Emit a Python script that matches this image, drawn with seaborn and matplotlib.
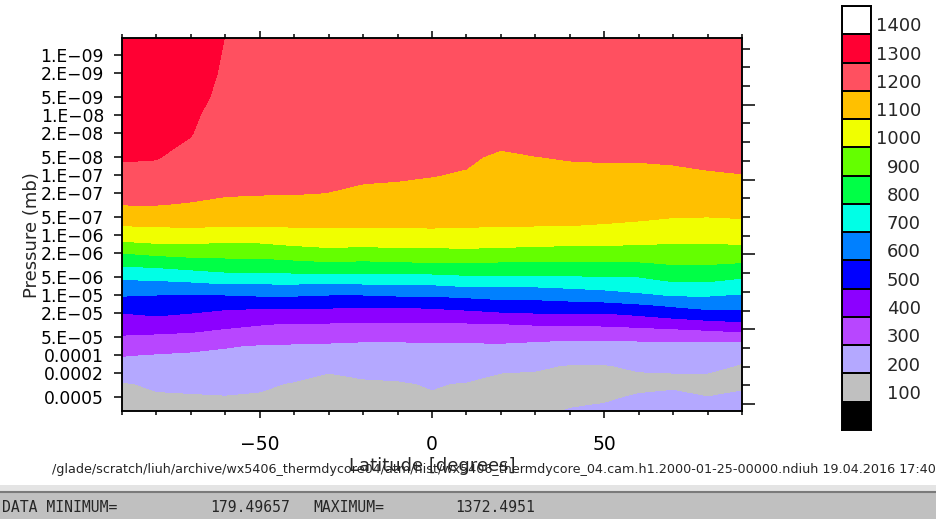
import numpy as np
import pandas as pd
import matplotlib
matplotlib.use("Agg")
import matplotlib.pyplot as plt
import seaborn as sns
from matplotlib.colors import ListedColormap
from matplotlib.ticker import FixedLocator, MultipleLocator, NullLocator, FixedFormatter

# ---------------- data ----------------
latitudes = [-90, -80, -70, -60, -50, -40, -30, -20, -10, 0, 10, 20, 30, 40, 50, 60, 70, 80, 90]

pressures = [5e-10, 1e-9, 2e-9, 5e-9, 1e-8, 2e-8, 5e-8, 1e-7, 2e-7, 3e-7, 5e-7, 7e-7,
             1e-6, 1.5e-6, 2e-6, 3e-6, 5e-6, 7e-6, 1e-5, 1.5e-5, 2e-5, 3e-5, 5e-5, 7e-5,
             1e-4, 1.5e-4, 2e-4, 3e-4, 5e-4, 7e-4, 9e-4]

# temperature [K], one row per pressure level, one column per latitude
temperature = [
    [1372, 1365, 1345, 1299, 1285, 1283, 1282, 1282, 1282, 1282, 1282, 1280, 1280, 1280, 1280, 1280, 1278, 1278, 1276],
    [1366, 1360, 1340, 1294, 1280, 1278, 1277, 1277, 1277, 1276, 1276, 1272, 1272, 1273, 1274, 1274, 1272, 1272, 1270],
    [1358, 1352, 1333, 1290, 1275, 1273, 1272, 1271, 1271, 1270, 1268, 1262, 1263, 1265, 1266, 1266, 1264, 1264, 1262],
    [1345, 1340, 1322, 1282, 1265, 1263, 1262, 1261, 1260, 1258, 1255, 1245, 1247, 1250, 1252, 1252, 1250, 1249, 1248],
    [1335, 1330, 1312, 1268, 1255, 1253, 1252, 1250, 1249, 1246, 1240, 1228, 1232, 1236, 1238, 1238, 1236, 1234, 1233],
    [1322, 1318, 1303, 1255, 1245, 1243, 1241, 1238, 1237, 1232, 1225, 1213, 1218, 1222, 1224, 1224, 1222, 1220, 1220],
    [1306, 1304, 1275, 1235, 1230, 1228, 1225, 1222, 1220, 1214, 1207, 1192, 1199, 1204, 1206, 1206, 1208, 1210, 1210],
    [1278, 1270, 1244, 1220, 1218, 1216, 1212, 1208, 1206, 1202, 1195, 1169, 1174, 1180, 1181, 1180, 1186, 1195, 1199],
    [1230, 1230, 1216, 1206, 1204, 1203, 1199, 1188, 1184, 1174, 1163, 1145, 1149, 1152, 1152, 1150, 1150, 1155, 1159],
    [1205, 1205, 1196, 1185, 1179, 1177, 1169, 1161, 1158, 1152, 1144, 1131, 1133, 1134, 1134, 1132, 1128, 1130, 1134],
    [1143, 1148, 1144, 1137, 1134, 1135, 1133, 1129, 1128, 1126, 1121, 1114, 1114, 1114, 1113, 1110, 1102, 1100, 1105],
    [1100, 1105, 1108, 1104, 1103, 1106, 1108, 1107, 1107, 1108, 1105, 1103, 1101, 1100, 1095, 1086, 1069, 1067, 1073],
    [1044, 1053, 1056, 1047, 1050, 1061, 1068, 1067, 1068, 1072, 1070, 1065, 1060, 1055, 1052, 1045, 1035, 1033, 1038],
    [964, 982, 985, 975, 980, 1000, 1011, 1006, 1011, 1011, 1015, 1010, 1005, 1000, 1000, 994, 990, 990, 994],
    [900, 918, 931, 931, 933, 950, 964, 957, 964, 967, 971, 964, 960, 953, 953, 953, 957, 957, 956],
    [815, 825, 842, 857, 857, 869, 882, 875, 882, 890, 892, 885, 885, 880, 880, 887, 905, 905, 893],
    [715, 723, 738, 758, 758, 764, 760, 764, 764, 767, 783, 783, 783, 792, 793, 800, 829, 829, 807],
    [659, 660, 667, 682, 683, 683, 675, 682, 683, 691, 708, 708, 708, 717, 729, 744, 771, 771, 750],
    [606, 600, 595, 600, 608, 608, 600, 600, 608, 609, 620, 633, 633, 646, 658, 682, 707, 707, 694],
    [541, 548, 537, 521, 517, 517, 515, 508, 509, 517, 531, 546, 550, 558, 564, 582, 609, 629, 625],
    [500, 514, 500, 479, 471, 467, 467, 463, 463, 467, 477, 492, 500, 500, 500, 518, 545, 570, 575],
    [450, 453, 442, 421, 406, 395, 395, 394, 394, 394, 394, 400, 408, 408, 415, 425, 440, 460, 480],
    [390, 380, 372, 353, 337, 330, 326, 318, 318, 318, 322, 328, 320, 314, 315, 317, 318, 322, 338],
    [348, 335, 322, 305, 295, 291, 287, 283, 284, 286, 287, 287, 279, 272, 272, 277, 279, 279, 265],
    [305, 294, 287, 283, 275, 266, 258, 257, 259, 264, 264, 258, 248, 236, 236, 248, 253, 253, 212],
    [258, 262, 259, 259, 250, 234, 223, 226, 230, 238, 236, 223, 210, 196, 196, 213, 221, 221, 195],
    [229, 241, 241, 243, 234, 214, 200, 206, 211, 221, 218, 200, 196, 190, 190, 197, 200, 200, 194],
    [195, 209, 213, 220, 209, 196, 192, 194, 195, 204, 196, 192, 190, 187, 188, 193, 196, 194, 197],
    [188, 192, 194, 196, 193, 190, 187, 188, 190, 194, 190, 188, 187, 192, 195, 203, 205, 200, 203],
    [185, 187, 188, 189, 188, 187, 186, 186, 187, 189, 188, 187, 190, 198, 202, 208, 207, 204, 205],
    [182, 183, 184, 184, 184, 184, 183, 183, 184, 185, 185, 185, 194, 203, 206, 210, 206, 205, 204],
]

levels = [100, 200, 300, 400, 500, 600, 700, 800, 900, 1000, 1100, 1200, 1300, 1400]
band_colors = ["#c0c0c0", "#b4a8ff", "#b846ff", "#8c00ff", "#0000ff", "#0080ff", "#00ffe6",
               "#00ff46", "#64ff00", "#f0ff00", "#ffc000", "#ff5060", "#ff0033"]
under_color = "#000000"
over_color = "#ffffff"

pressure_ticks = [1e-9, 2e-9, 5e-9, 1e-8, 2e-8, 5e-8, 1e-7, 2e-7, 5e-7, 1e-6, 2e-6, 5e-6,
                  1e-5, 2e-5, 5e-5, 1e-4, 2e-4, 5e-4]
pressure_tick_labels = ["1.E\u221209", "2.E\u221209", "5.E\u221209", "1.E\u221208", "2.E\u221208",
                        "5.E\u221208", "1.E\u221207", "2.E\u221207", "5.E\u221207", "1.E\u221206",
                        "2.E\u221206", "5.E\u221206", "1.E\u221205", "2.E\u221205", "5.E\u221205",
                        "0.0001", "0.0002", "0.0005"]
lat_ticks = [-50, 0, 50]

file_text = ("/glade/scratch/liuh/archive/wx5406_thermdycore04/atm/hist/"
             "wx5406_thermdycore_04.cam.h1.2000-01-25-00000.ndiuh 19.04.2016 17:40")
data_min_text = "179.49657"
data_max_text = "1372.4951"

# ---------------- style ----------------
sns.set_style("ticks", {"axes.edgecolor": "black", "xtick.color": "black", "ytick.color": "black"})
plt.rcParams['font.family'] = ['DejaVu Sans']
plt.rcParams['axes.linewidth'] = 1.1

W, H = 937, 519
fig = plt.figure(figsize=(W / 100, H / 100), dpi=100)

# ---------------- main contour panel ----------------
ax = fig.add_axes([122 / W, 1 - 411 / H, 620 / W, 373 / H])
T = np.array(temperature, dtype=float)
ax.contourf(latitudes, pressures, T, levels=levels, colors=band_colors)
ax.set_yscale('log')
ax.set_ylim(8.58e-4, 5.21e-10)
ax.set_xlim(-90, 90)

ax.yaxis.set_major_locator(FixedLocator(pressure_ticks))
ax.yaxis.set_major_formatter(FixedFormatter(pressure_tick_labels))
ax.yaxis.set_minor_locator(NullLocator())
ax.tick_params(axis='y', which='major', direction='out', length=6, width=1.1,
               pad=7, labelsize=12.3, right=False)

ax.xaxis.set_major_locator(FixedLocator(lat_ticks))
ax.xaxis.set_minor_locator(MultipleLocator(10))
ax.tick_params(axis='x', which='major', direction='out', length=5, width=1.1,
               pad=12, labelsize=13.5, top=True)
ax.tick_params(axis='x', which='minor', direction='out', length=3, width=1.1, top=True)

ax.set_xlabel("Latitude [degrees]", fontsize=13)
ax.xaxis.set_label_coords(0.5, -0.122)
ax.set_ylabel("Pressure (mb)", fontsize=13)
ax.yaxis.set_label_coords(-0.131, 0.472)

# right-hand tick axis (no labels)
ax2 = ax.twinx()
ax2.set_ylim(-0.37, 19.57)
ax2.yaxis.set_major_locator(MultipleLocator(4))
ax2.yaxis.set_minor_locator(MultipleLocator(1))
ax2.tick_params(axis='y', which='major', direction='out', length=9.1, width=1.1, labelright=False)
ax2.tick_params(axis='y', which='minor', direction='out', length=5.5, width=1.1)

# ---------------- colour key (seaborn heatmap) ----------------
key_colors = [over_color] + band_colors[::-1] + [under_color]
key_df = pd.DataFrame({"T": list(range(len(key_colors)))})
cax = fig.add_axes([842 / W, 1 - 430 / H, 29 / W, 424 / H])
sns.heatmap(key_df, ax=cax, cmap=ListedColormap(key_colors), vmin=-0.5,
            vmax=len(key_colors) - 0.5, cbar=False, linewidths=1.4, linecolor="black",
            xticklabels=False, yticklabels=False)
for s in cax.spines.values():
    s.set_visible(True)
    s.set_color("black")
    s.set_linewidth(1.4)
key_labels = [str(v) for v in levels[::-1]]
for k, lab in enumerate(key_labels, start=1):
    cax.text(2.72, k - 0.28, lab, ha='right', va='center', fontsize=13, clip_on=False)

# ---------------- footer texts ----------------
fig.text(52 / W, 1 - 470 / H, file_text, fontsize=9.2, va='center', ha='left')

strip = fig.add_axes([0, 27 / H, 1, 7 / H])
strip.set_facecolor("#e4e4e4")
strip.set_xticks([]); strip.set_yticks([])
for s in strip.spines.values():
    s.set_visible(False)

bar = fig.add_axes([0, 0, 1, 27 / H])
bar.set_facecolor("#c0c0c0")
bar.set_xticks([]); bar.set_yticks([])
for name, s in bar.spines.items():
    s.set_visible(name == "top")
bar.spines["top"].set_color("#7a7a7a")
bar.spines["top"].set_linewidth(1.5)

mono = dict(family=['DejaVu Sans Mono'], fontsize=10.6, va='center', ha='left')
fig.text(2 / W, 1 - 507 / H, "DATA MINIMUM=", **mono)
fig.text(210 / W, 1 - 507 / H, data_min_text, **mono)
fig.text(313 / W, 1 - 507 / H, "MAXIMUM=", **mono)
fig.text(455 / W, 1 - 507 / H, data_max_text, **mono)

fig.savefig("out.png", dpi=100)
